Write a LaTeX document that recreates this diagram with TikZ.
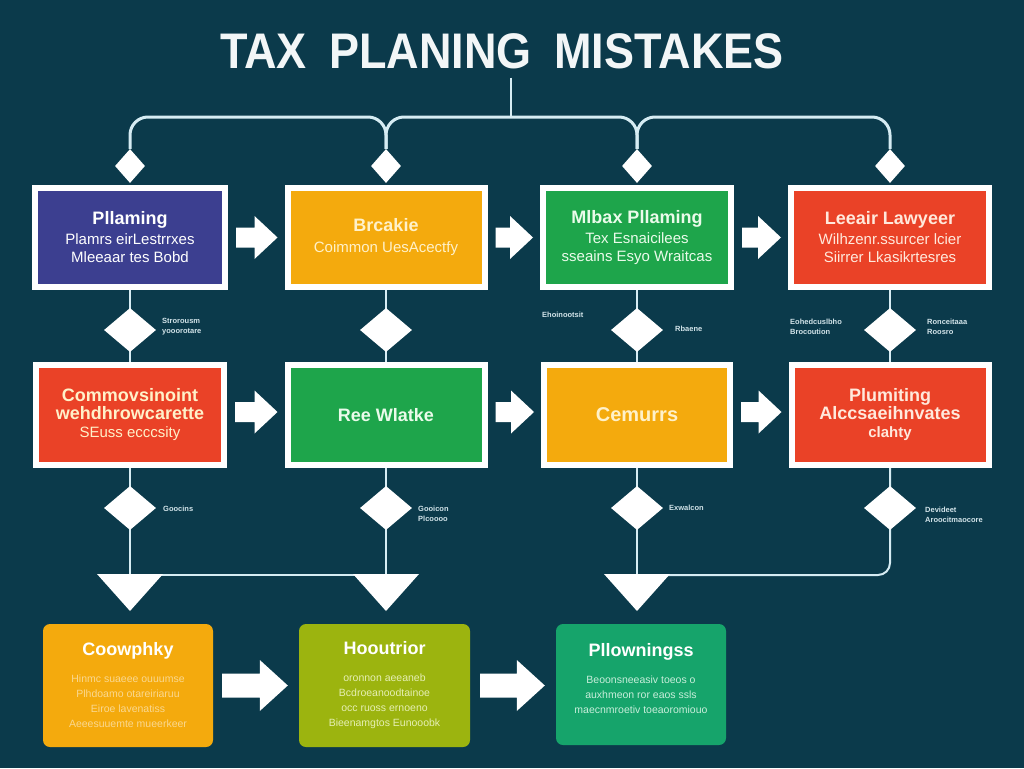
\documentclass[tikz,border=0pt]{standalone}
\usepackage{fontspec}
\setmainfont{Liberation Sans}
\usetikzlibrary{shapes.geometric,arrows.meta,calc}
\definecolor{bgc}{HTML}{0B3A4B}
\definecolor{lnc}{HTML}{D6ECF3}
\definecolor{titlec}{HTML}{F2F6F7}
\definecolor{cind}{HTML}{3C3F90}
\definecolor{corg}{HTML}{F4AA0D}
\definecolor{cgrn}{HTML}{1EA54B}
\definecolor{cred}{HTML}{EA4227}
\definecolor{colv}{HTML}{9CB40F}
\definecolor{cteal}{HTML}{16A46B}
\definecolor{lblc}{HTML}{D3E4EA}
\definecolor{tcream}{HTML}{FFF1C9}
\definecolor{tgrn}{HTML}{EAFBEA}
\definecolor{tred}{HTML}{FFE9DC}
\definecolor{paleA}{HTML}{FAD890}
\definecolor{paleB}{HTML}{E6EFB4}
\definecolor{paleC}{HTML}{C8EEDB}
\newcommand\bxhead{\fontsize{18}{19}\selectfont\bfseries}
\newcommand\bxsmall{\fontsize{10.5}{15}\selectfont}
\begin{document}
\begin{tikzpicture}[x=1pt,y=-1pt,
  conn/.style={draw=lnc, line width=2pt},
  brk/.style={draw=lnc, line width=3pt, rounded corners=18pt},
  rowbox/.style={draw=white, line width=6pt, inner sep=0pt, align=center, font=\fontsize{15}{18}\selectfont},
  botbox/.style={rounded corners=7pt, inner sep=0pt, align=center, minimum width=170pt, minimum height=123pt, font=\bxsmall},
  tdia/.style={diamond, fill=white, inner sep=0pt, minimum width=30pt, minimum height=34pt},
  mdia/.style={diamond, fill=white, inner sep=0pt, minimum width=52pt, minimum height=44pt},
  lbl/.style={font=\fontsize{7.5}{10}\selectfont\bfseries, text=lblc, align=left, inner sep=0pt},
  blk/.style n args={3}{fill=white, to path={let \p1=(\tikztostart), \p2=(\tikztotarget) in
      (\x1,\y1-#1) -- (\x2-#3,\y1-#1) -- (\x2-#3,\y1-#2) -- (\x2,\y1)
      -- (\x2-#3,\y1+#2) -- (\x2-#3,\y1+#1) -- (\x1,\y1+#1) -- cycle}},
  barrow/.style={blk={10pt}{21.5pt}{23pt}},
  bigbarrow/.style={blk={12pt}{25.5pt}{28pt}},
  downtip/.style={conn, -{Triangle[length=37pt,width=66pt,line width=0pt,color=white]}}
]
\fill[bgc] (0,0) rectangle (1024,768);
\useasboundingbox (0,0) rectangle (1024,768);

% title
\node[anchor=base, inner sep=0pt, text=titlec, font=\fontsize{50}{50}\selectfont\bfseries] (title) at (502,68)
  {\scalebox{0.9}[1]{TAX\hspace{0.5em}PLANING\hspace{0.5em}MISTAKES}};
\coordinate (hub) at (511,117);

% top diamonds
\node[tdia] (t1) at (130,166) {};
\node[tdia] (t2) at (386,166) {};
\node[tdia] (t3) at (637,166) {};
\node[tdia] (t4) at (890,166) {};

% bracket connectors
\draw[conn, shorten <=9pt] (title.south -| hub) -- (hub);
\draw[brk] (t1.north) -- (t1.north |- hub) -- (t2.north |- hub) -- (t2.north);
\draw[brk] (t2.north) -- (t2.north |- hub) -- (t3.north |- hub) -- (t3.north);
\draw[brk] (t3.north) -- (t3.north |- hub) -- (t4.north |- hub) -- (t4.north);

% row 1 boxes
\node[rowbox, fill=cind, text=white, minimum width=190pt, minimum height=99pt] (b1) at (130,237.5)
  {{\bxhead Pllaming}\\[2pt]Plamrs eirLestrrxes\\Mleeaar tes Bobd};
\node[rowbox, fill=corg, text=tcream, minimum width=197pt, minimum height=99pt] (b2) at (386,237.5)
  {{\bxhead Brcakie}\\[3pt]Coimmon UesAcectfy};
\node[rowbox, fill=cgrn, text=tgrn, minimum width=188pt, minimum height=99pt] (b3) at (637,237.5)
  {{\bxhead Mlbax Pllaming}\\[2pt]Tex Esnaicilees\\sseains Esyo Wraitcas};
\node[rowbox, fill=cred, text=tred, minimum width=198pt, minimum height=99pt] (b4) at (890,237.5)
  {{\bxhead Leeair Lawyeer}\\[2pt]Wilhzenr.ssurcer lcier\\Siirrer Lkasikrtesres};

% row 2 boxes
\node[rowbox, fill=cred, text=tcream, minimum width=188pt, minimum height=100pt] (b5) at (130,415)
  {{\bxhead Commovsinoint}\\{\bxhead wehdhrowcarette}\\SEuss ecccsity};
\node[rowbox, fill=cgrn, text=tgrn, minimum width=197pt, minimum height=100pt] (b6) at (386,415)
  {{\bxhead Ree Wlatke}};
\node[rowbox, fill=corg, text=tcream, minimum width=186pt, minimum height=100pt] (b7) at (637,415)
  {{\fontsize{20}{22}\selectfont\bfseries Cemurrs}};
\node[rowbox, fill=cred, text=tred, minimum width=197pt, minimum height=100pt] (b8) at (890,415)
  {{\bxhead Plumiting}\\{\bxhead Alccsaeihnvates}\\{\bfseries clahty}};

% middle diamond positions
\coordinate (cd1) at (130,330);
\coordinate (cd2) at (386,330);
\coordinate (cd3) at (637,330);
\coordinate (cd4) at (890,330);
\coordinate (ce1) at (130,508);
\coordinate (ce2) at (386,508);
\coordinate (ce3) at (637,508);
\coordinate (ce4) at (890,508);

% bottom junctions
\coordinate (jA) at (130,575);
\coordinate (jB) at (386,575);
\coordinate (jC) at (637,575);
\coordinate (tipA) at (130,611);
\coordinate (tipB) at (386,611);
\coordinate (tipC) at (637,611);

% vertical connectors (drawn through diamond centres, diamonds drawn on top)
\draw[conn] (b1.south) -- (cd1) -- (b5.north);
\draw[conn] (b2.south) -- (cd2) -- (b6.north);
\draw[conn] (b3.south) -- (cd3) -- (b7.north);
\draw[conn] (b4.south) -- (cd4) -- (b8.north);
\draw[conn] (jA) -- (jB);
\draw[conn, rounded corners=12pt] (b8.south) -- (ce4) |- (jC);
\draw[downtip] (b5.south) -- (ce1) -- (tipA);
\draw[downtip] (b6.south) -- (ce2) -- (tipB);
\draw[downtip] (b7.south) -- (ce3) -- (tipC);

% middle diamonds
\node[mdia] (d1) at (cd1) {};
\node[mdia] (d2) at (cd2) {};
\node[mdia] (d3) at (cd3) {};
\node[mdia] (d4) at (cd4) {};
\node[mdia] (e1) at (ce1) {};
\node[mdia] (e2) at (ce2) {};
\node[mdia] (e3) at (ce3) {};
\node[mdia] (e4) at (ce4) {};

% block arrows row 1 and row 2
\path[barrow] ($(b1.east)+(8,0)$) to ($(b2.west)+(-7,0)$);
\path[barrow] ($(b2.east)+(8,0)$) to ($(b3.west)+(-7,0)$);
\path[barrow] ($(b3.east)+(8,0)$) to ($(b4.west)+(-7,0)$);
\path[barrow] ($(b5.east)+(8,-3)$) to ($(b6.west)+(-7,-3)$);
\path[barrow] ($(b6.east)+(8,-3)$) to ($(b7.west)+(-7,-3)$);
\path[barrow] ($(b7.east)+(8,-3)$) to ($(b8.west)+(-7,-3)$);

% diamond labels
\node[lbl, anchor=west] (l1) at (162,327) {Strorousm\\yooorotare};
\node[lbl, anchor=west] (l2) at (542,315) {Ehoinootsit};
\node[lbl, anchor=west] (l3) at (675,329) {Rbaene};
\node[lbl, anchor=west] (l4) at (790,327) {Eohedcuslbho\\Brocoution};
\node[lbl, anchor=west] (l5) at (927,327) {Ronceitaaa\\Roosro};
\node[lbl, anchor=west] (l6) at (163,509) {Goocins};
\node[lbl, anchor=west] (l7) at (418,514) {Gooicon\\Plcoooo};
\node[lbl, anchor=west] (l8) at (669,508) {Exwalcon};
\node[lbl, anchor=west] (l9) at (925,515) {Devideet\\Aroocitmaocore};

% bottom boxes
\node[botbox, fill=corg, text=paleA] (bA) at (128,685.5)
  {{\color{white}\bxhead Coowphky}\\[12pt]Hinmc suaeee ouuumse\\Plhdoamo otareiriaruu\\Eiroe lavenatiss\\Aeeesuuemte mueerkeer};
\node[botbox, fill=colv, text=paleB, minimum width=171pt] (bB) at (384.5,685.5)
  {{\color{white}\bxhead Hooutrior}\\[12pt]oronnon aeeaneb\\Bcdroeanoodtainoe\\occ ruoss ernoeno\\Bieenamgtos Eunooobk};
\node[botbox, fill=cteal, text=paleC, minimum height=121pt] (bC) at (641,684.5)
  {{\color{white}\bxhead Pllowningss}\\[12pt]Beoonsneeasiv toeos o\\auxhmeon ror eaos ssls\\maecnmroetiv toeaoromiouo\\[-2pt]\mbox{}};

\path[bigbarrow] ($(bA.east)+(9,0)$) to ($(bB.west)+(-11,0)$);
\path[bigbarrow] ($(bB.east)+(10,0)$) to ($(bC.west)+(-11,0)$);
\end{tikzpicture}
\end{document}
